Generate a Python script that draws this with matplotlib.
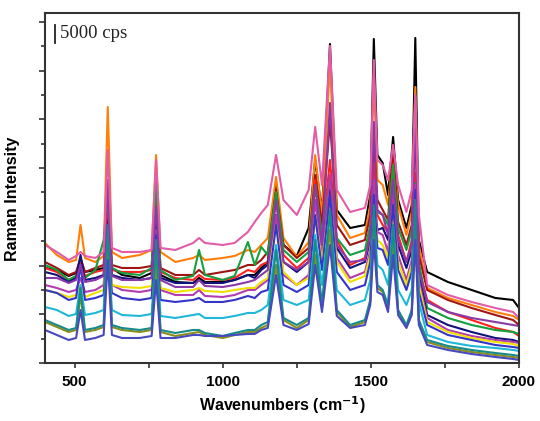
import matplotlib
matplotlib.use('Agg')
import matplotlib.pyplot as plt
from matplotlib.ticker import FixedLocator

# Raman spectra (arbitrary intensity units)
wavenumber = [400, 440, 480, 505, 520, 535, 570, 598, 612, 626, 660, 720, 760, 775, 790,
              840, 900, 920, 940, 1000, 1040, 1085, 1108, 1130, 1152, 1180, 1205, 1250,
              1290, 1312, 1335, 1362, 1385, 1430, 1480, 1498, 1510, 1522, 1540, 1558, 1575,
              1592, 1620, 1638, 1650, 1662, 1690, 1760, 1840, 1920, 1980, 2000]

black = [95, 93, 87, 90, 98, 91, 93, 95, 148, 95, 88, 85, 90, 153, 88, 81, 80, 85, 81, 81,
         83, 88, 88, 95, 101, 178, 118, 107, 135, 203, 151, 319, 153, 135, 138, 168, 324,
         208, 200, 168, 226, 163, 135, 158, 325, 123, 91, 81, 73, 65, 63, 55]
orange = [120, 108, 101, 103, 138, 105, 101, 107, 256, 111, 105, 108, 113, 208, 111, 101,
          105, 108, 103, 105, 107, 113, 111, 118, 125, 186, 125, 106, 121, 208, 148, 300,
          148, 125, 130, 158, 288, 183, 178, 158, 213, 158, 128, 151, 276, 118, 75, 65,
          58, 51, 47, 43]
maroon = [101, 95, 88, 91, 105, 91, 95, 98, 173, 98, 95, 95, 97, 173, 95, 88, 88, 93, 88,
          91, 93, 98, 98, 103, 111, 173, 118, 105, 115, 188, 138, 243, 138, 118, 123, 148,
          223, 163, 153, 143, 218, 141, 118, 138, 233, 108, 73, 63, 55, 48, 43, 38]
red = [95, 91, 83, 87, 101, 87, 91, 93, 163, 93, 91, 91, 93, 163, 91, 85, 83, 88, 84, 83,
       85, 93, 91, 98, 101, 163, 108, 95, 105, 183, 123, 203, 123, 98, 105, 131, 200, 148,
       138, 131, 198, 128, 101, 123, 190, 95, 63, 51, 43, 35, 31, 27]
green = [98, 93, 83, 87, 95, 85, 93, 123, 168, 95, 90, 88, 95, 183, 93, 83, 87, 113, 88,
         83, 87, 121, 98, 116, 108, 171, 113, 101, 111, 178, 128, 183, 125, 108, 113, 138,
         173, 151, 148, 138, 198, 135, 113, 133, 180, 101, 55, 45, 38, 33, 31, 29]
navy = [91, 88, 81, 85, 108, 83, 85, 88, 138, 88, 85, 83, 85, 143, 85, 80, 80, 83, 80, 80,
        83, 88, 85, 93, 98, 148, 101, 91, 101, 163, 118, 173, 115, 95, 101, 123, 163, 133,
        135, 123, 178, 118, 95, 113, 168, 91, 48, 38, 31, 25, 23, 21]
purple = [85, 85, 80, 83, 98, 81, 83, 87, 183, 87, 83, 83, 85, 156, 83, 76, 76, 83, 77, 76,
          78, 81, 83, 88, 93, 163, 101, 93, 101, 178, 118, 260, 118, 101, 103, 128, 241,
          153, 148, 128, 183, 123, 101, 118, 250, 93, 61, 51, 45, 41, 38, 37]
magenta = [78, 75, 71, 73, 85, 71, 73, 78, 133, 78, 73, 71, 73, 133, 73, 68, 68, 73, 67,
           66, 68, 73, 73, 78, 83, 148, 88, 78, 88, 163, 105, 188, 105, 85, 91, 113, 183,
           131, 128, 111, 173, 108, 83, 103, 178, 83, 45, 33, 27, 23, 21, 20]
yellow = [73, 70, 66, 68, 78, 66, 70, 73, 123, 78, 76, 75, 77, 123, 75, 71, 73, 75, 72,
          71, 73, 75, 75, 81, 85, 138, 91, 78, 85, 148, 101, 163, 101, 81, 87, 108, 158,
          123, 118, 105, 153, 101, 78, 98, 158, 78, 41, 31, 25, 21, 19, 17]
blue = [73, 70, 63, 65, 98, 63, 65, 68, 123, 70, 65, 63, 65, 128, 63, 61, 63, 65, 61, 61,
        63, 67, 65, 71, 73, 138, 78, 71, 78, 148, 93, 168, 91, 73, 78, 101, 168, 115, 113,
        98, 158, 93, 73, 91, 173, 71, 38, 28, 23, 18, 16, 15]
cyan = [56, 53, 47, 49, 78, 48, 50, 53, 123, 53, 48, 47, 49, 113, 47, 45, 48, 49, 45, 45,
        47, 50, 50, 53, 58, 118, 63, 58, 63, 128, 78, 148, 73, 58, 63, 83, 148, 98, 93, 78,
        138, 73, 58, 73, 158, 61, 28, 21, 17, 15, 13, 12]
teal = [43, 38, 33, 35, 75, 33, 35, 38, 138, 38, 35, 33, 35, 123, 33, 30, 33, 33, 30, 27,
        30, 33, 33, 38, 41, 113, 45, 38, 45, 123, 58, 153, 53, 38, 43, 63, 158, 78, 73, 58,
        138, 53, 38, 53, 163, 43, 23, 17, 13, 10, 8, 7]
olive = [41, 36, 31, 33, 68, 31, 33, 36, 123, 36, 33, 31, 33, 103, 31, 27, 30, 31, 28, 25,
         28, 31, 31, 35, 38, 98, 43, 35, 43, 108, 55, 133, 51, 36, 41, 61, 138, 75, 71, 55,
         123, 51, 36, 51, 138, 41, 21, 15, 11, 8, 6, 5]
slate = [33, 28, 23, 25, 53, 23, 25, 28, 103, 28, 25, 25, 27, 83, 25, 25, 28, 28, 27, 27,
         28, 29, 29, 33, 35, 88, 38, 33, 39, 98, 51, 118, 47, 35, 38, 58, 123, 71, 68, 51,
         108, 48, 35, 48, 123, 38, 18, 13, 9, 6, 4, 3]
pink = [118, 111, 103, 107, 111, 107, 105, 111, 213, 115, 111, 111, 113, 203, 115, 113,
        120, 125, 120, 118, 120, 131, 141, 150, 158, 208, 163, 148, 173, 236, 178, 317, 173,
        151, 155, 178, 303, 203, 198, 183, 218, 178, 151, 173, 268, 148, 78, 68, 61, 55,
        51, 45]

spectra = [
    (black, '#000000'),
    (orange, '#ff7f0a'),
    (maroon, '#a01414'),
    (red, '#ff2020'),
    (green, '#14a03c'),
    (navy, '#12127a'),
    (magenta, '#b23cb0'),
    (yellow, '#f0e000'),
    (blue, '#3535c8'),
    (cyan, '#20b8d8'),
    (olive, '#8c8c1c'),
    (teal, '#178a8a'),
    (slate, '#4848c0'),
    (purple, '#8a3aa8'),
    (pink, '#e35ca8'),
]

plt.rcParams['font.family'] = ['Liberation Sans', 'DejaVu Sans']

fig = plt.figure(figsize=(5.4, 4.21), dpi=100)
ax = fig.add_axes([0.0833, 0.1378, 0.8778, 0.8314])

for values, color in spectra:
    ax.plot(wavenumber, values, color=color, lw=1.5, solid_joinstyle='round')

ax.set_xlim(400, 2000)
ax.set_ylim(0, 350)

ax.xaxis.set_major_locator(FixedLocator([500, 1000, 1500, 2000]))
ax.xaxis.set_minor_locator(FixedLocator([750, 1250, 1750]))
ax.yaxis.set_major_locator(FixedLocator([48.72 * i for i in range(8)]))
ax.yaxis.set_minor_locator(FixedLocator([24.36 + 48.72 * i for i in range(7)]))
ax.set_yticklabels([])

ax.tick_params(axis='both', which='both', direction='out', color='#333333', width=1.2)
ax.tick_params(axis='x', which='both', length=3.5, labelsize=11, pad=5)
ax.tick_params(axis='y', which='major', length=4.5)
ax.tick_params(axis='y', which='minor', length=3)
for lab in ax.get_xticklabels():
    lab.set_fontweight('bold')

for s in ax.spines.values():
    s.set_linewidth(1.5)
    s.set_color('#333333')

ax.set_xlabel('Wavenumbers (cm$^{\\mathbf{-1}}$)', fontsize=11.5, fontweight='bold', labelpad=4)
ax.set_ylabel('Raman Intensity', fontsize=11.5, fontweight='bold', labelpad=6)
ax.yaxis.set_label_coords(-0.052, 0.47)

# 5000 cps scale bar
ax.plot([0.021, 0.021], [0.914, 0.966], transform=ax.transAxes, color='#222222', lw=1.3)
ax.text(0.031, 0.94, '5000 cps', transform=ax.transAxes, fontsize=13.5,
        family='Liberation Serif', va='center', ha='left', color='#222222')

fig.savefig('out.png', dpi=100)
